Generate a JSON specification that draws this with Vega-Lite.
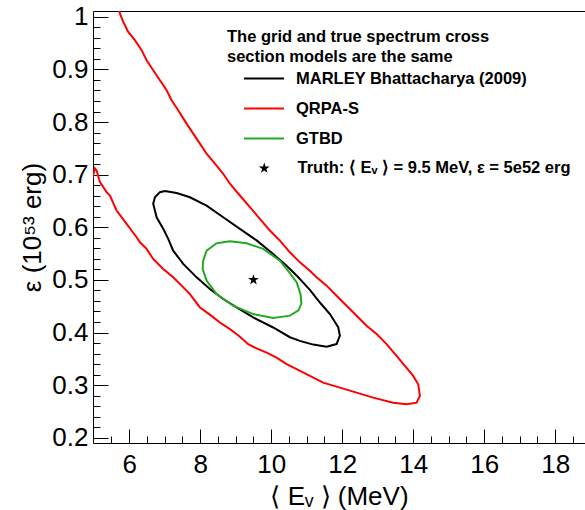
{
  "$schema": "https://vega.github.io/schema/vega-lite/v6.json",
  "width": 492,
  "height": 432,
  "autosize": {"type": "none"},
  "padding": {"left": 93, "top": 11, "right": 0, "bottom": 67},
  "background": "white",
  "config": {
    "view": {"stroke": null},
    "font": "Liberation Sans",
    "axis": {
      "grid": false,
      "domainColor": "black",
      "domainWidth": 1,
      "tickColor": "black",
      "tickWidth": 1,
      "labelColor": "black",
      "titleColor": "black",
      "labelFont": "Liberation Sans",
      "titleFont": "Liberation Sans",
      "titleFontWeight": "normal"
    }
  },
  "datasets": {
    "contours": [
      {"model": "QRPA-S", "order": 1, "x": 5.71, "y": 1.017},
      {"model": "QRPA-S", "order": 2, "x": 5.738, "y": 1.0065},
      {"model": "QRPA-S", "order": 3, "x": 5.831, "y": 0.9905},
      {"model": "QRPA-S", "order": 4, "x": 5.972, "y": 0.9714},
      {"model": "QRPA-S", "order": 5, "x": 6.161, "y": 0.9556},
      {"model": "QRPA-S", "order": 6, "x": 6.349, "y": 0.9366},
      {"model": "QRPA-S", "order": 7, "x": 6.49, "y": 0.9175},
      {"model": "QRPA-S", "order": 8, "x": 6.676, "y": 0.8985},
      {"model": "QRPA-S", "order": 9, "x": 6.865, "y": 0.8794},
      {"model": "QRPA-S", "order": 10, "x": 7.054, "y": 0.8604},
      {"model": "QRPA-S", "order": 11, "x": 7.194, "y": 0.8413},
      {"model": "QRPA-S", "order": 12, "x": 7.38, "y": 0.8223},
      {"model": "QRPA-S", "order": 13, "x": 7.617, "y": 0.797},
      {"model": "QRPA-S", "order": 14, "x": 7.803, "y": 0.7779},
      {"model": "QRPA-S", "order": 15, "x": 7.992, "y": 0.7589},
      {"model": "QRPA-S", "order": 16, "x": 8.18, "y": 0.7398},
      {"model": "QRPA-S", "order": 17, "x": 8.414, "y": 0.7208},
      {"model": "QRPA-S", "order": 18, "x": 8.648, "y": 0.7017},
      {"model": "QRPA-S", "order": 19, "x": 8.837, "y": 0.6827},
      {"model": "QRPA-S", "order": 20, "x": 9.118, "y": 0.6604},
      {"model": "QRPA-S", "order": 21, "x": 9.4, "y": 0.6381},
      {"model": "QRPA-S", "order": 22, "x": 9.682, "y": 0.616},
      {"model": "QRPA-S", "order": 23, "x": 9.963, "y": 0.5937},
      {"model": "QRPA-S", "order": 24, "x": 10.245, "y": 0.5747},
      {"model": "QRPA-S", "order": 25, "x": 10.527, "y": 0.5524},
      {"model": "QRPA-S", "order": 26, "x": 10.808, "y": 0.5333},
      {"model": "QRPA-S", "order": 27, "x": 11.09, "y": 0.5175},
      {"model": "QRPA-S", "order": 28, "x": 11.279, "y": 0.5048},
      {"model": "QRPA-S", "order": 29, "x": 11.561, "y": 0.489},
      {"model": "QRPA-S", "order": 30, "x": 11.842, "y": 0.4699},
      {"model": "QRPA-S", "order": 31, "x": 12.124, "y": 0.4509},
      {"model": "QRPA-S", "order": 32, "x": 12.406, "y": 0.4318},
      {"model": "QRPA-S", "order": 33, "x": 12.687, "y": 0.4128},
      {"model": "QRPA-S", "order": 34, "x": 12.969, "y": 0.397},
      {"model": "QRPA-S", "order": 35, "x": 13.251, "y": 0.3779},
      {"model": "QRPA-S", "order": 36, "x": 13.532, "y": 0.3556},
      {"model": "QRPA-S", "order": 37, "x": 13.766, "y": 0.3366},
      {"model": "QRPA-S", "order": 38, "x": 14.0, "y": 0.3175},
      {"model": "QRPA-S", "order": 39, "x": 14.141, "y": 0.3017},
      {"model": "QRPA-S", "order": 40, "x": 14.189, "y": 0.2794},
      {"model": "QRPA-S", "order": 41, "x": 14.096, "y": 0.2667},
      {"model": "QRPA-S", "order": 42, "x": 13.814, "y": 0.2636},
      {"model": "QRPA-S", "order": 43, "x": 13.437, "y": 0.2667},
      {"model": "QRPA-S", "order": 44, "x": 12.873, "y": 0.2762},
      {"model": "QRPA-S", "order": 45, "x": 12.406, "y": 0.2857},
      {"model": "QRPA-S", "order": 46, "x": 11.935, "y": 0.2952},
      {"model": "QRPA-S", "order": 47, "x": 11.465, "y": 0.3048},
      {"model": "QRPA-S", "order": 48, "x": 11.09, "y": 0.3175},
      {"model": "QRPA-S", "order": 49, "x": 10.715, "y": 0.3303},
      {"model": "QRPA-S", "order": 50, "x": 10.434, "y": 0.3398},
      {"model": "QRPA-S", "order": 51, "x": 10.152, "y": 0.3524},
      {"model": "QRPA-S", "order": 52, "x": 9.87, "y": 0.3619},
      {"model": "QRPA-S", "order": 53, "x": 9.589, "y": 0.3699},
      {"model": "QRPA-S", "order": 54, "x": 9.352, "y": 0.3779},
      {"model": "QRPA-S", "order": 55, "x": 9.118, "y": 0.3918},
      {"model": "QRPA-S", "order": 56, "x": 8.837, "y": 0.4065},
      {"model": "QRPA-S", "order": 57, "x": 8.555, "y": 0.419},
      {"model": "QRPA-S", "order": 58, "x": 8.273, "y": 0.434},
      {"model": "QRPA-S", "order": 59, "x": 7.992, "y": 0.4476},
      {"model": "QRPA-S", "order": 60, "x": 7.71, "y": 0.4731},
      {"model": "QRPA-S", "order": 61, "x": 7.476, "y": 0.489},
      {"model": "QRPA-S", "order": 62, "x": 7.239, "y": 0.5048},
      {"model": "QRPA-S", "order": 63, "x": 6.958, "y": 0.5208},
      {"model": "QRPA-S", "order": 64, "x": 6.676, "y": 0.5398},
      {"model": "QRPA-S", "order": 65, "x": 6.49, "y": 0.5589},
      {"model": "QRPA-S", "order": 66, "x": 6.301, "y": 0.5714},
      {"model": "QRPA-S", "order": 67, "x": 6.208, "y": 0.581},
      {"model": "QRPA-S", "order": 68, "x": 5.927, "y": 0.6065},
      {"model": "QRPA-S", "order": 69, "x": 5.645, "y": 0.6318},
      {"model": "QRPA-S", "order": 70, "x": 5.456, "y": 0.6604},
      {"model": "QRPA-S", "order": 71, "x": 5.363, "y": 0.6667},
      {"model": "QRPA-S", "order": 72, "x": 5.175, "y": 0.6857},
      {"model": "QRPA-S", "order": 73, "x": 5.082, "y": 0.708},
      {"model": "QRPA-S", "order": 74, "x": 5.034, "y": 0.7118},
      {"model": "QRPA-S", "order": 75, "x": 4.95, "y": 0.69},

      {"model": "MARLEY Bhattacharya (2009)", "order": 1, "x": 7.006, "y": 0.669},
      {"model": "MARLEY Bhattacharya (2009)", "order": 2, "x": 7.335, "y": 0.665},
      {"model": "MARLEY Bhattacharya (2009)", "order": 3, "x": 7.71, "y": 0.657},
      {"model": "MARLEY Bhattacharya (2009)", "order": 4, "x": 8.18, "y": 0.641},
      {"model": "MARLEY Bhattacharya (2009)", "order": 5, "x": 8.648, "y": 0.619},
      {"model": "MARLEY Bhattacharya (2009)", "order": 6, "x": 9.118, "y": 0.597},
      {"model": "MARLEY Bhattacharya (2009)", "order": 7, "x": 9.589, "y": 0.575},
      {"model": "MARLEY Bhattacharya (2009)", "order": 8, "x": 10.056, "y": 0.549},
      {"model": "MARLEY Bhattacharya (2009)", "order": 9, "x": 10.434, "y": 0.527},
      {"model": "MARLEY Bhattacharya (2009)", "order": 10, "x": 10.75, "y": 0.506},
      {"model": "MARLEY Bhattacharya (2009)", "order": 11, "x": 11.09, "y": 0.481},
      {"model": "MARLEY Bhattacharya (2009)", "order": 12, "x": 11.372, "y": 0.457},
      {"model": "MARLEY Bhattacharya (2009)", "order": 13, "x": 11.654, "y": 0.435},
      {"model": "MARLEY Bhattacharya (2009)", "order": 14, "x": 11.887, "y": 0.41},
      {"model": "MARLEY Bhattacharya (2009)", "order": 15, "x": 11.935, "y": 0.394},
      {"model": "MARLEY Bhattacharya (2009)", "order": 16, "x": 11.842, "y": 0.378},
      {"model": "MARLEY Bhattacharya (2009)", "order": 17, "x": 11.561, "y": 0.373},
      {"model": "MARLEY Bhattacharya (2009)", "order": 18, "x": 11.183, "y": 0.377},
      {"model": "MARLEY Bhattacharya (2009)", "order": 19, "x": 10.808, "y": 0.384},
      {"model": "MARLEY Bhattacharya (2009)", "order": 20, "x": 10.527, "y": 0.391},
      {"model": "MARLEY Bhattacharya (2009)", "order": 21, "x": 10.056, "y": 0.4095},
      {"model": "MARLEY Bhattacharya (2009)", "order": 22, "x": 9.493, "y": 0.4286},
      {"model": "MARLEY Bhattacharya (2009)", "order": 23, "x": 9.025, "y": 0.4476},
      {"model": "MARLEY Bhattacharya (2009)", "order": 24, "x": 8.648, "y": 0.4636},
      {"model": "MARLEY Bhattacharya (2009)", "order": 25, "x": 8.273, "y": 0.4827},
      {"model": "MARLEY Bhattacharya (2009)", "order": 26, "x": 7.899, "y": 0.5048},
      {"model": "MARLEY Bhattacharya (2009)", "order": 27, "x": 7.521, "y": 0.5303},
      {"model": "MARLEY Bhattacharya (2009)", "order": 28, "x": 7.239, "y": 0.5556},
      {"model": "MARLEY Bhattacharya (2009)", "order": 29, "x": 7.099, "y": 0.5779},
      {"model": "MARLEY Bhattacharya (2009)", "order": 30, "x": 6.958, "y": 0.597},
      {"model": "MARLEY Bhattacharya (2009)", "order": 31, "x": 6.772, "y": 0.619},
      {"model": "MARLEY Bhattacharya (2009)", "order": 32, "x": 6.676, "y": 0.6446},
      {"model": "MARLEY Bhattacharya (2009)", "order": 33, "x": 6.724, "y": 0.6571},
      {"model": "MARLEY Bhattacharya (2009)", "order": 34, "x": 6.865, "y": 0.6667},
      {"model": "MARLEY Bhattacharya (2009)", "order": 35, "x": 7.006, "y": 0.669},

      {"model": "GTBD", "order": 1, "x": 8.462, "y": 0.5695},
      {"model": "GTBD", "order": 2, "x": 8.837, "y": 0.5733},
      {"model": "GTBD", "order": 3, "x": 9.307, "y": 0.5695},
      {"model": "GTBD", "order": 4, "x": 9.775, "y": 0.5589},
      {"model": "GTBD", "order": 5, "x": 10.245, "y": 0.5366},
      {"model": "GTBD", "order": 6, "x": 10.527, "y": 0.513},
      {"model": "GTBD", "order": 7, "x": 10.72, "y": 0.495},
      {"model": "GTBD", "order": 8, "x": 10.83, "y": 0.472},
      {"model": "GTBD", "order": 9, "x": 10.85, "y": 0.455},
      {"model": "GTBD", "order": 10, "x": 10.77, "y": 0.442},
      {"model": "GTBD", "order": 11, "x": 10.527, "y": 0.432},
      {"model": "GTBD", "order": 12, "x": 10.056, "y": 0.4274},
      {"model": "GTBD", "order": 13, "x": 9.493, "y": 0.435},
      {"model": "GTBD", "order": 14, "x": 8.93, "y": 0.4509},
      {"model": "GTBD", "order": 15, "x": 8.462, "y": 0.4731},
      {"model": "GTBD", "order": 16, "x": 8.18, "y": 0.4985},
      {"model": "GTBD", "order": 17, "x": 8.068, "y": 0.5208},
      {"model": "GTBD", "order": 18, "x": 8.085, "y": 0.5366},
      {"model": "GTBD", "order": 19, "x": 8.18, "y": 0.5556},
      {"model": "GTBD", "order": 20, "x": 8.462, "y": 0.5695}
    ],
    "truth": [
      {"x": 9.5, "y": 0.5, "label": "Truth: ⟨ Eᵥ ⟩ = 9.5 MeV, ε = 5e52 erg"}
    ]
  },
  "layer": [
    {
      "data": {"name": "contours"},
      "transform": [{"filter": "datum.model === 'QRPA-S'"}],
      "mark": {"type": "line", "clip": true, "strokeWidth": 2},
      "encoding": {
        "x": {
          "field": "x", "type": "quantitative",
          "scale": {"domain": [4.98, 18.84], "nice": false, "zero": false},
          "axis": {
            "orient": "bottom",
            "values": [6, 8, 10, 12, 14, 16, 18],
            "tickSize": -14,
            "labelPadding": 22,
            "labelFontSize": 26,
            "title": "⟨ Eᵥ ⟩ (MeV)",
            "titleFontSize": 26,
            "titlePadding": 6
          }
        },
        "y": {
          "field": "y", "type": "quantitative",
          "scale": {"domain": [0.19, 1.011], "nice": false, "zero": false},
          "axis": {
            "orient": "left",
            "values": [0.2, 0.3, 0.4, 0.5, 0.6, 0.7, 0.8, 0.9, 1.0],
            "format": "~g",
            "tickSize": -15,
            "labelPadding": 20,
            "labelFontSize": 26,
            "title": "ε (10⁵³ erg)",
            "titleFontSize": 26,
            "titlePadding": 6
          }
        },
        "color": {
          "field": "model", "type": "nominal",
          "scale": {
            "domain": ["MARLEY Bhattacharya (2009)", "QRPA-S", "GTBD"],
            "range": ["#000000", "#ff0000", "#22aa22"]
          },
          "legend": {
            "orient": "none",
            "legendX": 134,
            "legendY": 18,
            "padding": 0,
            "title": ["The grid and true spectrum cross", "section models are the same"],
            "titleFont": "Liberation Sans",
            "titleFontSize": 16.5,
            "titleFontWeight": "bold",
            "titleColor": "black",
            "titleLineHeight": 20,
            "titlePadding": -8,
            "titleLimit": 400,
            "labelFont": "Liberation Sans",
            "labelFontSize": 16.5,
            "labelFontWeight": "bold",
            "labelColor": "black",
            "labelLimit": 400,
            "symbolType": "stroke",
            "symbolSize": 1600,
            "symbolStrokeWidth": 2,
            "symbolOffset": 16,
            "labelOffset": 11,
            "rowPadding": -2
          }
        },
        "order": {"field": "order", "type": "quantitative"}
      }
    },
    {
      "data": {"name": "contours"},
      "transform": [{"filter": "datum.model === 'MARLEY Bhattacharya (2009)'"}],
      "mark": {"type": "line", "clip": true, "strokeWidth": 2},
      "encoding": {
        "x": {
          "field": "x", "type": "quantitative",
          "axis": {
            "orient": "bottom",
            "values": [5.5, 6, 6.5, 7, 7.5, 8, 8.5, 9, 9.5, 10, 10.5, 11, 11.5, 12, 12.5, 13, 13.5, 14, 14.5, 15, 15.5, 16, 16.5, 17, 17.5, 18, 18.5],
            "tickSize": -7,
            "labels": false,
            "domain": false,
            "title": null
          }
        },
        "y": {
          "field": "y", "type": "quantitative",
          "axis": {
            "orient": "left",
            "values": [0.2, 0.22, 0.24, 0.26, 0.28, 0.3, 0.32, 0.34, 0.36, 0.38, 0.4, 0.42, 0.44, 0.46, 0.48, 0.5, 0.52, 0.54, 0.56, 0.58, 0.6, 0.62, 0.64, 0.66, 0.68, 0.7, 0.72, 0.74, 0.76, 0.78, 0.8, 0.82, 0.84, 0.86, 0.88, 0.9, 0.92, 0.94, 0.96, 0.98, 1.0],
            "tickSize": -7,
            "labels": false,
            "domain": false,
            "title": null
          }
        },
        "color": {"field": "model", "type": "nominal"},
        "order": {"field": "order", "type": "quantitative"}
      }
    },
    {
      "data": {"name": "contours"},
      "transform": [{"filter": "datum.model === 'GTBD'"}],
      "mark": {"type": "line", "clip": true, "strokeWidth": 2},
      "encoding": {
        "x": {
          "field": "x", "type": "quantitative",
          "axis": {"orient": "top", "ticks": false, "labels": false, "domain": true, "title": null}
        },
        "y": {"field": "y", "type": "quantitative", "axis": null},
        "color": {"field": "model", "type": "nominal"},
        "order": {"field": "order", "type": "quantitative"}
      }
    },
    {
      "data": {"name": "truth"},
      "mark": {"type": "point", "filled": true, "opacity": 1, "size": 130, "color": "black"},
      "encoding": {
        "x": {"field": "x", "type": "quantitative", "axis": null},
        "y": {"field": "y", "type": "quantitative", "axis": null},
        "shape": {
          "field": "label", "type": "nominal",
          "scale": {"range": ["M0,-1L0.2245,-0.309L0.951,-0.309L0.363,0.118L0.588,0.809L0,0.382L-0.588,0.809L-0.363,0.118L-0.951,-0.309L-0.2245,-0.309Z"]},
          "legend": {
            "orient": "none",
            "legendX": 134,
            "legendY": 149,
            "padding": 0,
            "title": null,
            "labelFont": "Liberation Sans",
            "labelFontSize": 16.5,
            "labelFontWeight": "bold",
            "labelColor": "black",
            "labelLimit": 400,
            "symbolFillColor": "black",
            "symbolStrokeColor": "black",
            "symbolStrokeWidth": 0,
            "symbolSize": 130,
            "symbolOffset": 29,
            "labelOffset": 25
          }
        }
      }
    }
  ],
  "resolve": {"axis": {"x": "independent", "y": "independent"}}
}
